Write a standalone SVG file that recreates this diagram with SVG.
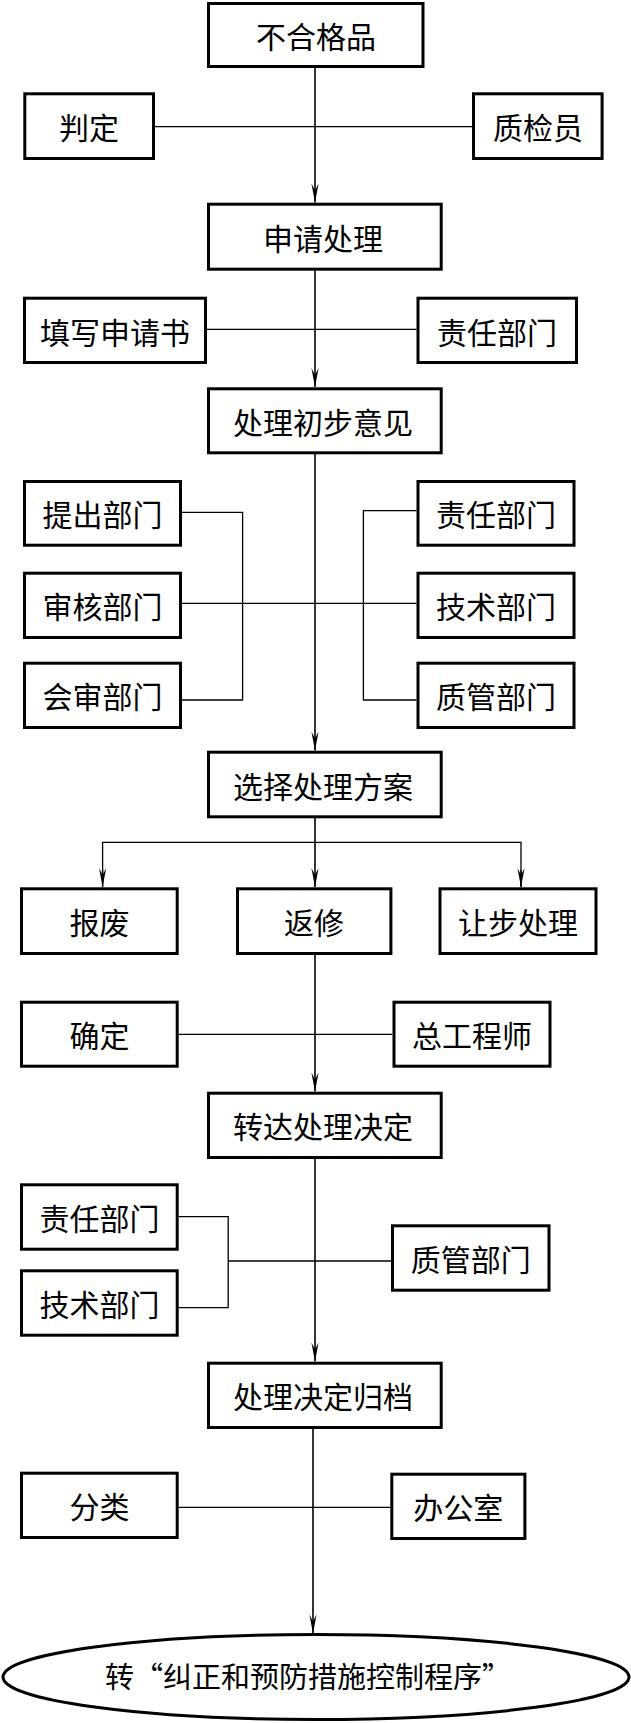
<svg xmlns="http://www.w3.org/2000/svg" width="631" height="1723" viewBox="0 0 631 1723">
<style>
rect.b{fill:#fff;stroke:#000;stroke-width:3}
ellipse.b{fill:#fff;stroke:#000;stroke-width:3}
text{font-family:"Noto Sans CJK SC","Noto Sans CJK TC",sans-serif;font-size:30px;fill:#000;text-anchor:middle;dominant-baseline:central}
text.e{font-size:29px}
.m{fill:none;stroke:#000;stroke-width:1.6}
.s{fill:none;stroke:#000;stroke-width:1.3}
</style>
<defs>
<marker id="arr" viewBox="-20 -5 21 10" refX="0" refY="0" markerWidth="21" markerHeight="10" markerUnits="userSpaceOnUse" orient="auto">
<path d="M0,0 L-19,-3.6 L-12,0 L-19,3.6 Z" fill="#000"/>
</marker>
</defs>
<rect width="631" height="1723" fill="#fff"/>
<g id="connectors">
<line class="s" x1="155" y1="126.7" x2="472" y2="126.7"/>
<line class="s" x1="207" y1="329.3" x2="416.5" y2="329.3"/>
<polyline class="s" points="182,512.3 242.6,512.3 242.6,700 182,700"/>
<line class="s" x1="182" y1="603.3" x2="416.5" y2="603.3"/>
<polyline class="s" points="416.5,510.7 363.4,510.7 363.4,700 416.5,700"/>
<line class="s" x1="178.7" y1="1034.3" x2="392.4" y2="1034.3"/>
<polyline class="s" points="178.7,1216.7 228.2,1216.7 228.2,1307.7 178.7,1307.7"/>
<line class="s" x1="228.2" y1="1261" x2="391" y2="1261"/>
<line class="s" x1="178.7" y1="1507.3" x2="390.3" y2="1507.3"/>
<line class="m" x1="315" y1="68" x2="315" y2="202.5" marker-end="url(#arr)"/>
<line class="m" x1="315" y1="270.5" x2="315" y2="387" marker-end="url(#arr)"/>
<line class="m" x1="315" y1="454" x2="315" y2="750.5" marker-end="url(#arr)"/>
<line class="m" x1="315" y1="818" x2="315" y2="887" marker-end="url(#arr)"/>
<polyline class="s" points="102.6,887 102.6,842.3 521,842.3 521,887"/>
<line class="s" x1="102.6" y1="870" x2="102.6" y2="887" marker-end="url(#arr)"/>
<line class="s" x1="521" y1="870" x2="521" y2="887" marker-end="url(#arr)"/>
<line class="m" x1="315" y1="955" x2="315" y2="1091.5" marker-end="url(#arr)"/>
<line class="m" x1="315" y1="1159" x2="315" y2="1361.5" marker-end="url(#arr)"/>
<line class="m" x1="313" y1="1429" x2="313" y2="1633.5" marker-end="url(#arr)"/>
</g>
<g id="n1"><rect class="b" x="208.5" y="3.5" width="214.5" height="63"/><text x="316" y="35">不合格品</text></g>
<g id="n2"><rect class="b" x="24.8" y="93.8" width="128.7" height="64.7"/><text x="89" y="126">判定</text></g>
<g id="n3"><rect class="b" x="473.5" y="93.8" width="128.6" height="64.7"/><text x="538" y="126">质检员</text></g>
<g id="n4"><rect class="b" x="208.5" y="204.2" width="232.7" height="65"/><text x="323" y="237">申请处理</text></g>
<g id="n5"><rect class="b" x="24.5" y="298.2" width="181" height="64.3"/><text x="115" y="330.5">填写申请书</text></g>
<g id="n6"><rect class="b" x="418" y="298.2" width="158.5" height="64.3"/><text x="497" y="330.5">责任部门</text></g>
<g id="n7"><rect class="b" x="208.5" y="388.8" width="232.7" height="64"/><text x="323" y="420.7">处理初步意见</text></g>
<g id="n8"><rect class="b" x="24.5" y="481.5" width="156" height="63.7"/><text x="102.5" y="513.3">提出部门</text></g>
<g id="n9"><rect class="b" x="418" y="481.5" width="156" height="63.7"/><text x="496" y="513.3">责任部门</text></g>
<g id="n10"><rect class="b" x="24.5" y="573.2" width="156" height="64.3"/><text x="102.5" y="605.3">审核部门</text></g>
<g id="n11"><rect class="b" x="418" y="573.2" width="156" height="64.3"/><text x="496" y="605.3">技术部门</text></g>
<g id="n12"><rect class="b" x="24.5" y="663.2" width="156" height="64.3"/><text x="102.5" y="695.3">会审部门</text></g>
<g id="n13"><rect class="b" x="418" y="663.2" width="156" height="64.3"/><text x="496" y="695.3">质管部门</text></g>
<g id="n14"><rect class="b" x="208.5" y="752.2" width="232.7" height="64.6"/><text x="323" y="784.5">选择处理方案</text></g>
<g id="n15"><rect class="b" x="21.5" y="888.8" width="155.7" height="64.7"/><text x="99.5" y="921">报废</text></g>
<g id="n16"><rect class="b" x="237.5" y="888.8" width="153.4" height="64.7"/><text x="314" y="921">返修</text></g>
<g id="n17"><rect class="b" x="440" y="888.8" width="156" height="64.7"/><text x="518" y="921">让步处理</text></g>
<g id="n18"><rect class="b" x="21.5" y="1002.2" width="155.7" height="64"/><text x="99.5" y="1034.3">确定</text></g>
<g id="n19"><rect class="b" x="394" y="1002.2" width="156" height="64"/><text x="472" y="1034.3">总工程师</text></g>
<g id="n20"><rect class="b" x="208.5" y="1093.2" width="232.7" height="64.3"/><text x="323" y="1125.3">转达处理决定</text></g>
<g id="n21"><rect class="b" x="21.5" y="1184.8" width="155.7" height="64.4"/><text x="99.5" y="1217">责任部门</text></g>
<g id="n22"><rect class="b" x="21.5" y="1270.8" width="155.7" height="64.4"/><text x="99.5" y="1303">技术部门</text></g>
<g id="n23"><rect class="b" x="392.5" y="1225.8" width="156.5" height="64.4"/><text x="470.7" y="1258">质管部门</text></g>
<g id="n24"><rect class="b" x="208.5" y="1363.2" width="232.7" height="64.3"/><text x="323" y="1395.3">处理决定归档</text></g>
<g id="n25"><rect class="b" x="21.5" y="1473.2" width="155.7" height="64.3"/><text x="99.5" y="1505.3">分类</text></g>
<g id="n26"><rect class="b" x="391.8" y="1474.2" width="133.1" height="64.3"/><text x="458.3" y="1506.3">办公室</text></g>
<g id="n27"><ellipse class="b" cx="316" cy="1677" rx="313" ry="42.5"/><text class="e" x="308" y="1675">转“纠正和预防措施控制程序”</text></g>
</svg>
